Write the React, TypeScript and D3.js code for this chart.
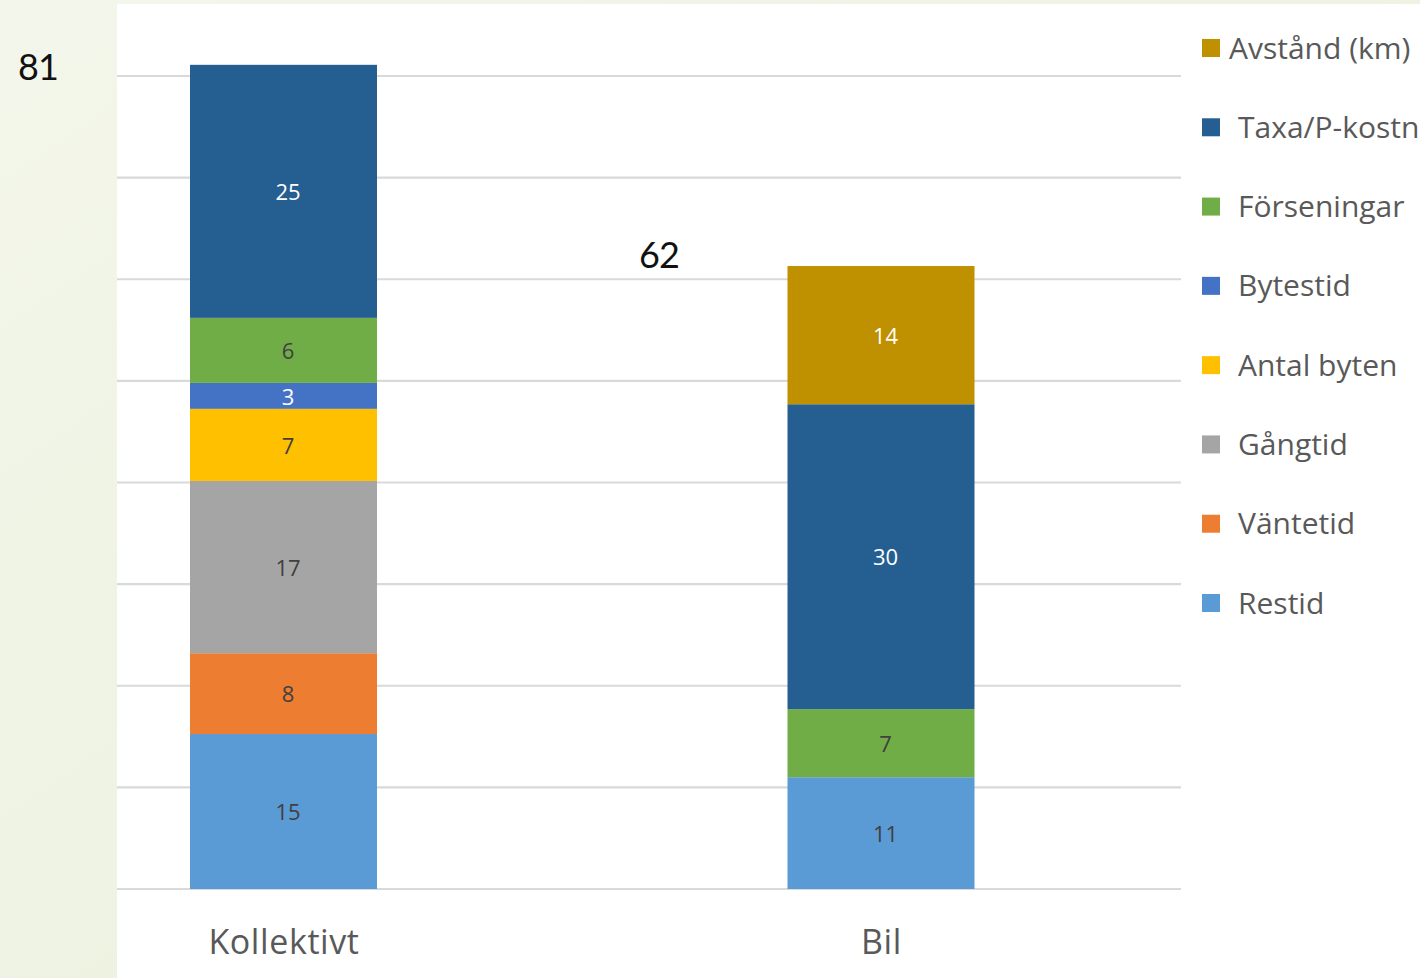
import React from "react";
import * as d3 from "d3";

const categories = ["Kollektivt", "Bil"];
const seriesNames = ["Restid", "Väntetid", "Gångtid", "Antal byten", "Bytestid", "Förseningar", "Taxa/P-kostnad", "Avstånd (km)"];
const seriesColors = ["#5B9BD5", "#ED7D31", "#A5A5A5", "#FFC000", "#4472C4", "#70AD47", "#255E91", "#BF9000"];
const labelDark = [false, false, false, false, true, false, true, true];
// values per series: [Kollektivt, Bil]
const restid = [15.25, 11.0];
const vantetid = [7.95, 0];
const gangtid = [16.95, 0];
const antalByten = [7.1, 0];
const bytestid = [2.55, 0];
const forseningar = [6.4, 6.7];
const taxa = [24.9, 30.0];
const avstand = [0, 13.6];
const seriesValues = [restid, vantetid, gangtid, antalByten, bytestid, forseningar, taxa, avstand];
const labelValues = [[15, 11], [8, null], [17, null], [7, null], [3, null], [6, 7], [25, 30], [null, 14]];
const totals = ["81", "62"];
const yTicks = [0, 10, 20, 30, 40, 50, 60, 70, 80];
const legendOrder = ["Avstånd (km)", "Taxa/P-kostnad", "Förseningar", "Bytestid", "Antal byten", "Gångtid", "Väntetid", "Restid"];

export default function App() {
  const W = 1420, H = 978;
  const y = d3.scaleLinear().domain([0, 80]).range([889, 76]);
  const x = d3.scalePoint().domain(categories).range([283.5, 881]);
  const barW = 187;

  const rows = categories.map((c, ci) => {
    const obj: any = { cat: c };
    seriesNames.forEach((s, si) => (obj[s] = seriesValues[si][ci]));
    return obj;
  });
  const stacked = d3.stack().keys(seriesNames)(rows);

  const legendY = d3.scalePoint().domain(legendOrder).range([48, 603]);

  return (
    <svg width={W} height={H} style={{ position: "fixed", left: 0, top: 0 }}>
      <defs>
        <linearGradient id="bg" x1="0" y1="0" x2="1" y2="1">
          <stop offset="0" stopColor="#f3f6ea" />
          <stop offset="1" stopColor="#e9efda" />
        </linearGradient>
      </defs>
      <rect x={0} y={0} width={W} height={H} fill="url(#bg)" />
      <rect x={117} y={4} width={W - 117} height={H - 4} fill="#ffffff" />
      {yTicks.map((t) => (
        <line key={t} x1={117} x2={1181} y1={y(t)} y2={y(t)} stroke="#d9d9d9" strokeWidth={2.2} />
      ))}
      {stacked.map((layer, si) =>
        layer.map((d, ci) => {
          const h = y(d[0]) - y(d[1]);
          if (h <= 0) return null;
          return (
            <rect key={`${si}-${ci}`} x={(x(categories[ci]) as number) - barW / 2} y={y(d[1])} width={barW} height={h} fill={seriesColors[si]} />
          );
        })
      )}
      {stacked.map((layer, si) =>
        layer.map((d, ci) => {
          const lv = labelValues[si][ci];
          if (lv === null) return null;
          return (
            <text key={`l${si}-${ci}`} x={(x(categories[ci]) as number) + 4.5} y={(y(d[0]) + y(d[1])) / 2 + 1} dy="0.35em" textAnchor="middle"
              fontFamily="'Open Sans', 'Noto Sans', sans-serif" fontSize={22} fill={labelDark[si] ? "#ffffff" : "#404040"}>
              {lv}
            </text>
          );
        })
      )}
      {categories.map((c) => (
        <text key={c} x={(x(c) as number) + 0.5} y={942} dy="0.35em" textAnchor="middle" fontFamily="'Open Sans', 'Noto Sans', sans-serif" fontSize={34} letterSpacing={0.6} fill="#595959">
          {c}
        </text>
      ))}
      <text x={18} y={67} dy="0.35em" fontFamily="Lato, 'DejaVu Sans', sans-serif" fontSize={36} letterSpacing={-1} fill="#111">{totals[0]}</text>
      <text x={639} y={255} dy="0.35em" fontFamily="Lato, 'DejaVu Sans', sans-serif" fontSize={36} letterSpacing={-1} fill="#111">{totals[1]}</text>
      {legendOrder.map((name) => {
        const si = seriesNames.indexOf(name);
        const cy = legendY(name) as number;
        return (
          <g key={name}>
            <rect x={1202} y={cy - 9} width={18} height={18} fill={seriesColors[si]} />
            <text x={name === "Avstånd (km)" ? 1229 : 1238} y={cy} dy="0.35em" fontFamily="'Open Sans', 'Noto Sans', sans-serif" fontSize={30} fill="#595959">
              {name}
            </text>
          </g>
        );
      })}
    </svg>
  );
}
